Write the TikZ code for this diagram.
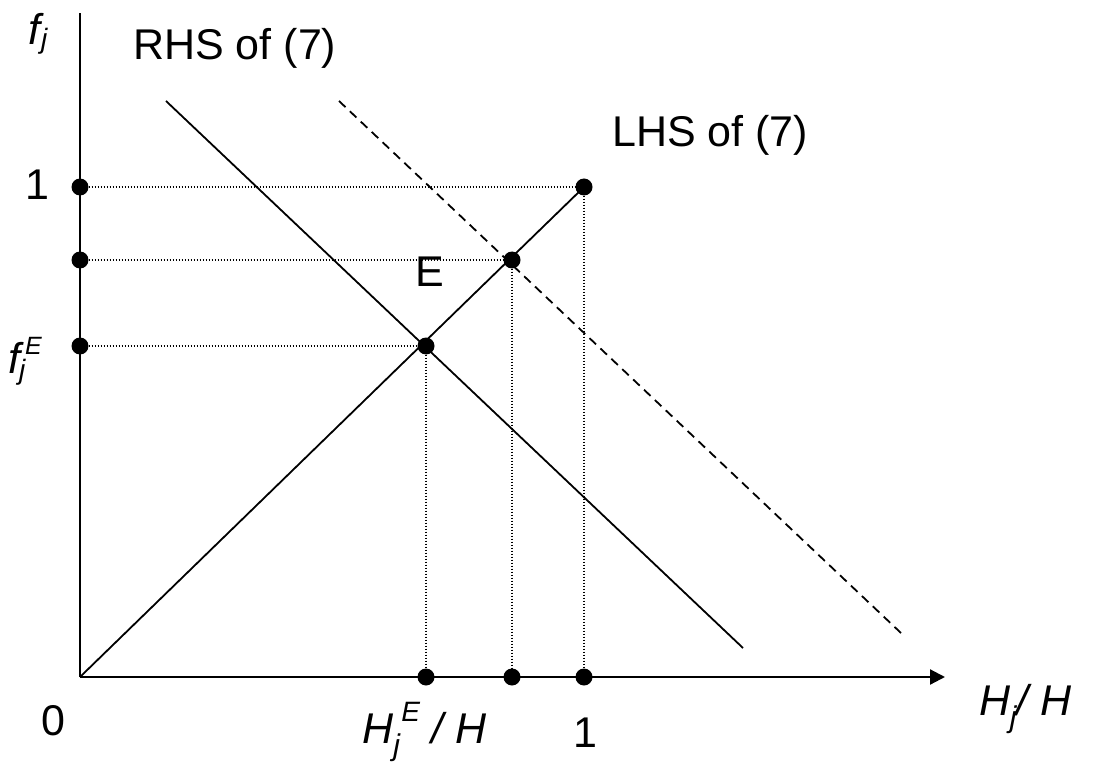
\documentclass[tikz,border=0pt]{standalone}
\usepackage{fontspec}
\setmainfont{Liberation Sans}
\usetikzlibrary{positioning, arrows.meta, calc}

% small raised / lowered letters for the axis labels
\newcommand{\lowj}[2]{\raisebox{-#1}{\fontsize{#2}{#2}\selectfont j}}
\newcommand{\highE}[2]{\raisebox{#1}{\fontsize{#2}{#2}\selectfont E}}

\begin{document}
\begin{tikzpicture}[
      x=1pt, y=-1pt,
      dot/.style={
        circle,
        fill,
        inner sep=0pt,
        minimum size=17pt
      },
      lbl/.style={
        font=\fontsize{43}{48}\selectfont,
        inner sep=0pt
      },
      axis/.style={
        line width=2.2pt
      },
      curve/.style={
        line width=1.8pt
      },
      guide/.style={
        line width=1.2pt,
        dash pattern=on 1.4pt off 1.6pt
      }
    ]
    \useasboundingbox (0,0) rectangle (1093,762);

    % axes
    \coordinate (origin) at (80,677);
    \coordinate (ytop) at (80,13);
    \coordinate (xend) at (945,677);
    \draw[axis] (origin) -- (ytop);
    \draw[axis, -{Triangle[length=15pt,width=15pt]}] (origin) -- (xend);

    % points
    \node[dot] (one) at (584,187) {};
    \node[dot] (mid) at (512,260) {};
    \node[dot] (eq) at (426,346) {};
    \node[dot] (yone) at (80,187) {};
    \node[dot] (ymid) at (80,260) {};
    \node[dot] (yeq) at (80,346) {};
    \node[dot] (xone) at (584,677) {};
    \node[dot] (xmid) at (512,677) {};
    \node[dot] (xeq) at (426,677) {};

    % guide lines
    \draw[guide] (yone) -- (one);
    \draw[guide] (ymid) -- (mid);
    \draw[guide] (yeq) -- (eq);
    \draw[guide] (one) -- (xone);
    \draw[guide] (mid) -- (xmid);
    \draw[guide] (eq) -- (xeq);

    % LHS and RHS
    \coordinate (rhsa) at (166,101);
    \coordinate (rhsb) at (743,648);
    \coordinate (dasha) at (339,101);
    \coordinate (dashb) at (901,633);
    \draw[curve] (origin) -- (one.center);
    \draw[curve] (rhsa) -- (rhsb);
    \draw[curve, dash pattern=on 9pt off 6pt] (dasha) -- (dashb);

    % labels
    \node[lbl, anchor=base west] (fj) at (28,45) {\itshape f\kern1pt\lowj{4pt}{28}};
    \node[lbl, anchor=base west] (rhs) at (133,60) {RHS of (7)};
    \node[lbl, anchor=base west] (lhs) at (612,147) {LHS of (7)};
    \node[lbl, anchor=base] (ylab) at (37,200) {1};
    \node[lbl, anchor=base west] (fje) at (8,373) {\itshape f\rlap{\kern-1pt\lowj{6pt}{28}}\kern5pt\highE{19pt}{25}};
    \node[lbl, anchor=base] (elab) at (430,287) {E};
    \node[lbl, anchor=base] (zero) at (53,735) {0};
    \node[lbl, anchor=base west] (hje) at (362,743) {\itshape H\rlap{\kern0pt\lowj{12pt}{30}}\kern8pt\highE{22pt}{28} / H};
    \node[lbl, anchor=base] (xlab) at (585,747) {1};
    \node[lbl, anchor=base west] (hj) at (979,715) {\itshape H\kern-0.5pt\lowj{12pt}{30}\kern0.5pt/ H};

    \end{tikzpicture}
\end{document}
